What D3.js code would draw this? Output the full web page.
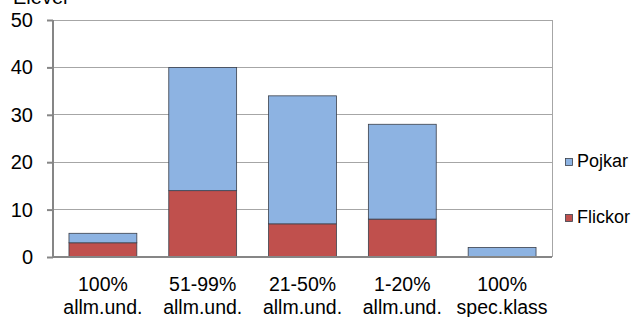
<!DOCTYPE html>
<html><head><meta charset="utf-8">
<script src="https://cdn.jsdelivr.net/npm/d3@7"></script>
<style>body{margin:0;background:#fff}svg{display:block;font-family:"Liberation Sans",Arial,sans-serif}</style>
</head><body><svg id="c" width="638" height="317"></svg>
<script>
(function(){
const categories = [["100%","allm.und."],["51-99%","allm.und."],["21-50%","allm.und."],["1-20%","allm.und."],["100%","spec.klass"]];
const flickor = [3, 14, 7, 8, 0];
const pojkar = [2, 26, 27, 20, 2];
const yTicks = [0, 10, 20, 30, 40, 50];
const seriesNames = ["Flickor", "Pojkar"];
const colors = {Flickor: "#C0504D", Pojkar: "#8DB3E2"};

const svg = d3.select("#c");
const mL = 53, mR = 552, mT = 20, mB = 257;
const x = d3.scaleBand().domain(d3.range(categories.length)).range([mL, mR]).paddingInner(0.32).paddingOuter(0.16);
const y = d3.scaleLinear().domain([0, 50]).range([mB, mT]);

svg.append("g").selectAll("line").data(yTicks.filter(d => d > 0)).join("line")
  .attr("x1", mL).attr("x2", mR).attr("y1", d => y(d)).attr("y2", d => y(d))
  .attr("stroke", "#A6A6A6").attr("stroke-width", 1).attr("shape-rendering", "crispEdges");
svg.append("line").attr("x1", mR).attr("x2", mR).attr("y1", mT).attr("y2", mB)
  .attr("stroke", "#A6A6A6").attr("shape-rendering", "crispEdges");

const data = categories.map((c, i) => ({i, Flickor: flickor[i], Pojkar: pojkar[i]}));
const stack = d3.stack().keys(seriesNames)(data);
svg.append("g").selectAll("g").data(stack).join("g").attr("fill", d => colors[d.key])
  .selectAll("rect").data(d => d.filter(p => p[1] - p[0] > 0)).join("rect")
  .attr("x", d => x(d.data.i)).attr("width", x.bandwidth())
  .attr("y", d => y(d[1])).attr("height", d => y(d[0]) - y(d[1]))
  .attr("stroke", "#3A3F4A").attr("stroke-width", 0.8);

const ya = svg.append("g").attr("transform", `translate(${mL},0)`)
  .call(d3.axisLeft(y).tickValues(yTicks).tickSize(6).tickPadding(14));
ya.select(".domain").attr("stroke", "#868686").attr("stroke-width", 2).attr("d", `M0,${mT}V${mB}`);
ya.selectAll(".tick line").attr("stroke", "#868686").attr("stroke-width", 2);
ya.selectAll(".tick text").attr("font-size", 20).attr("fill", "#000").attr("font-family", "Liberation Sans, Arial, sans-serif");

svg.append("line").attr("x1", mL).attr("x2", mR).attr("y1", mB).attr("y2", mB)
  .attr("stroke", "#868686").attr("stroke-width", 2);

const xl = svg.append("g").selectAll("text").data(categories).join("text")
  .attr("text-anchor", "middle").attr("font-size", 19.5).attr("fill", "#000");
xl.append("tspan").attr("x", (d, i) => x(i) + x.bandwidth() / 2).attr("y", 291).text(d => d[0]);
xl.append("tspan").attr("x", (d, i) => x(i) + x.bandwidth() / 2).attr("y", 314).text(d => d[1]);

svg.append("text").attr("x", 13).attr("y", 4).attr("font-size", 20).text("Elever");

const leg = [{k: "Pojkar", y: 158}, {k: "Flickor", y: 214}];
const lg = svg.append("g").selectAll("g").data(leg).join("g");
lg.append("rect").attr("x", 565.5).attr("y", d => d.y + 0.5).attr("width", 7).attr("height", 7)
  .attr("fill", d => colors[d.k]).attr("stroke", "#3A3F4A").attr("stroke-width", 0.8);
lg.append("text").attr("x", 577).attr("y", d => d.y + 9).attr("font-size", 18).text(d => d.k);
})();
</script></body></html>
